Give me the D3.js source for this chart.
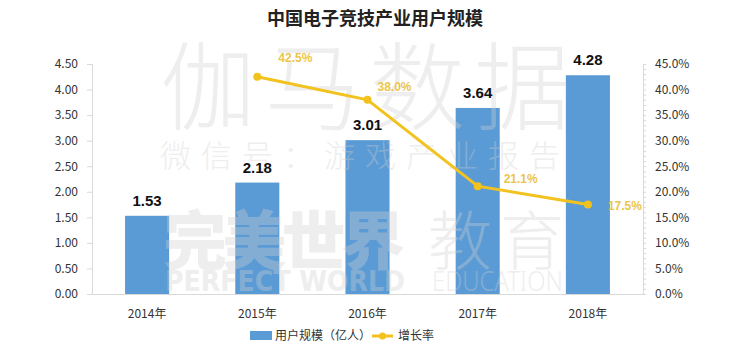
<!DOCTYPE html>
<html>
<head>
<meta charset="utf-8">
<script src="https://cdn.jsdelivr.net/npm/d3@7"></script>
<style>
  body { margin: 0; background: #fff; }
  svg { font-family: "Microsoft YaHei", "Noto Sans CJK SC", sans-serif; }
</style>
</head>
<body>
<div id="chart"></div>
<script>
// chart data
const years = ["2014年", "2015年", "2016年", "2017年", "2018年"];
const users = [1.53, 2.18, 3.01, 3.64, 4.28];
const growth = [null, 42.5, 38.0, 21.1, 17.5];
const leftTicks = [0, 0.5, 1, 1.5, 2, 2.5, 3, 3.5, 4, 4.5];
const rightTicks = [0, 5, 10, 15, 20, 25, 30, 35, 40, 45];

const width = 750, height = 354;
const margin = { top: 64, right: 107, bottom: 60, left: 92 };
const innerW = width - margin.left - margin.right;
const innerH = height - margin.top - margin.bottom;

const svg = d3.select("#chart").append("svg")
  .attr("width", width)
  .attr("height", height);

// title
svg.append("text")
  .attr("x", width / 2)
  .attr("y", 25)
  .attr("text-anchor", "middle")
  .style("font-size", "18px")
  .style("font-weight", "bold")
  .style("fill", "#222")
  .text("中国电子竞技产业用户规模");

const g = svg.append("g").attr("transform", `translate(${margin.left},${margin.top})`);

const x = d3.scaleBand().domain(years).range([0, innerW]).paddingInner(0.6).paddingOuter(0.3);
const yL = d3.scaleLinear().domain([0, 4.5]).range([innerH, 0]);
const yR = d3.scaleLinear().domain([0, 45]).range([innerH, 0]);

// left axis
const axL = g.append("g")
  .call(d3.axisLeft(yL).tickValues(leftTicks).tickFormat(d3.format(".2f")).tickSize(5).tickPadding(9));
// right axis
const axR = g.append("g")
  .attr("transform", `translate(${innerW},0)`)
  .call(d3.axisRight(yR).tickValues(rightTicks).tickFormat(d => d.toFixed(1) + "%").tickSize(0).tickPadding(12));
// right minor ticks
g.append("g")
  .attr("transform", `translate(${innerW},0)`)
  .call(d3.axisRight(yR).tickValues(d3.range(0, 45.01, 1)).tickFormat("").tickSize(3))
  .select(".domain").remove();
// bottom axis
const axB = g.append("g")
  .attr("transform", `translate(0,${innerH})`)
  .call(d3.axisBottom(x).tickSize(0).tickPadding(15));

[axL, axR, axB].forEach(a => {
  a.select(".domain").attr("stroke", "#d9d9d9");
  a.selectAll("text").style("font-size", "12px").style("fill", "#333")
    .style("font-family", "'Noto Sans CJK SC', sans-serif");
});
g.selectAll(".tick line").attr("stroke", "#d9d9d9");

// bars
g.selectAll("rect.bar")
  .data(users)
  .join("rect")
  .attr("class", "bar")
  .attr("x", (d, i) => x(years[i]))
  .attr("y", d => yL(d))
  .attr("width", x.bandwidth())
  .attr("height", d => innerH - yL(d))
  .attr("fill", "#5B9BD5");

// watermark, drawn over the bars like the original
const wm = svg.append("g").style("fill", "#cfcfcf").style("opacity", 0.35)
  .style("font-family", "'Noto Sans CJK SC', sans-serif");
wm.append("text").attr("x", 160).attr("y", 122).attr("textLength", 410).attr("lengthAdjust", "spacing")
  .style("font-size", "96px").style("font-weight", "300").text("伽马数据");
wm.append("text").attr("x", 160).attr("y", 167).attr("textLength", 400).attr("lengthAdjust", "spacing")
  .style("font-size", "31px").style("font-weight", "300").text("微信号：游戏产业报告");
wm.append("text").attr("x", 163).attr("y", 264).attr("textLength", 242).attr("lengthAdjust", "spacing")
  .style("font-size", "64px").style("font-weight", "900").text("完美世界");
wm.append("text").attr("x", 428).attr("y", 264).attr("textLength", 136).attr("lengthAdjust", "spacing")
  .style("font-size", "64px").style("font-weight", "300").text("教育");
wm.append("text").attr("x", 165).attr("y", 291).attr("textLength", 240).attr("lengthAdjust", "spacingAndGlyphs")
  .style("font-size", "28px").style("font-weight", "900").style("font-family", "'DejaVu Sans', sans-serif").text("PERFECT WORLD");
wm.append("text").attr("x", 432).attr("y", 291).attr("textLength", 131).attr("lengthAdjust", "spacingAndGlyphs")
  .style("font-size", "28px").style("font-weight", "300").style("font-family", "'Noto Sans', sans-serif").text("EDUCATION");

const fg = svg.append("g").attr("transform", `translate(${margin.left},${margin.top})`);

fg.selectAll("text.barlabel")
  .data(users)
  .join("text")
  .attr("class", "barlabel")
  .attr("x", (d, i) => x(years[i]) + x.bandwidth() / 2)
  .attr("y", d => yL(d) - 10)
  .attr("text-anchor", "middle")
  .style("font-size", "15px")
  .style("font-weight", "bold")
  .style("fill", "#111")
  .style("font-family", "'Liberation Sans', Arial, sans-serif")
  .text(d => d.toFixed(2));

// growth line
const pts = growth.map((v, i) => ({ v, yr: years[i] })).filter(d => d.v !== null);
const line = d3.line()
  .x(d => x(d.yr) + x.bandwidth() / 2)
  .y(d => yR(d.v));

fg.append("path")
  .datum(pts)
  .attr("d", line)
  .attr("fill", "none")
  .attr("stroke", "#F2C21F")
  .attr("stroke-width", 3);

fg.selectAll("circle.pt")
  .data(pts)
  .join("circle")
  .attr("class", "pt")
  .attr("cx", d => x(d.yr) + x.bandwidth() / 2)
  .attr("cy", d => yR(d.v))
  .attr("r", 4)
  .attr("fill", "#F2C21F");

// label offsets (dx, dy) relative to the points
const labelOffsets = [[21, -15], [10, -9], [26, -3], [20, 5]];
fg.selectAll("text.ptlabel")
  .data(pts)
  .join("text")
  .attr("class", "ptlabel")
  .attr("x", (d, i) => x(d.yr) + x.bandwidth() / 2 + labelOffsets[i][0])
  .attr("y", (d, i) => yR(d.v) + labelOffsets[i][1])
  .style("font-size", "12px")
  .style("font-weight", "bold")
  .style("fill", "#EBC54A")
  .style("font-family", "'Liberation Sans', Arial, sans-serif")
  .text(d => d.v.toFixed(1) + "%");

// legend
const lg = svg.append("g").attr("transform", "translate(250,336)");
lg.append("rect").attr("x", 0).attr("y", -5).attr("width", 22).attr("height", 9).attr("fill", "#5B9BD5");
lg.append("text").attr("x", 25).attr("y", 4).style("font-size", "12px").style("fill", "#333")
  .text("用户规模（亿人）");
lg.append("line").attr("x1", 122).attr("x2", 143).attr("y1", 0).attr("y2", 0)
  .attr("stroke", "#F2C21F").attr("stroke-width", 3);
lg.append("circle").attr("cx", 132.5).attr("cy", 0).attr("r", 3.5).attr("fill", "#F2C21F");
lg.append("text").attr("x", 148).attr("y", 4).style("font-size", "12px").style("fill", "#333")
  .text("增长率");
</script>
</body>
</html>
